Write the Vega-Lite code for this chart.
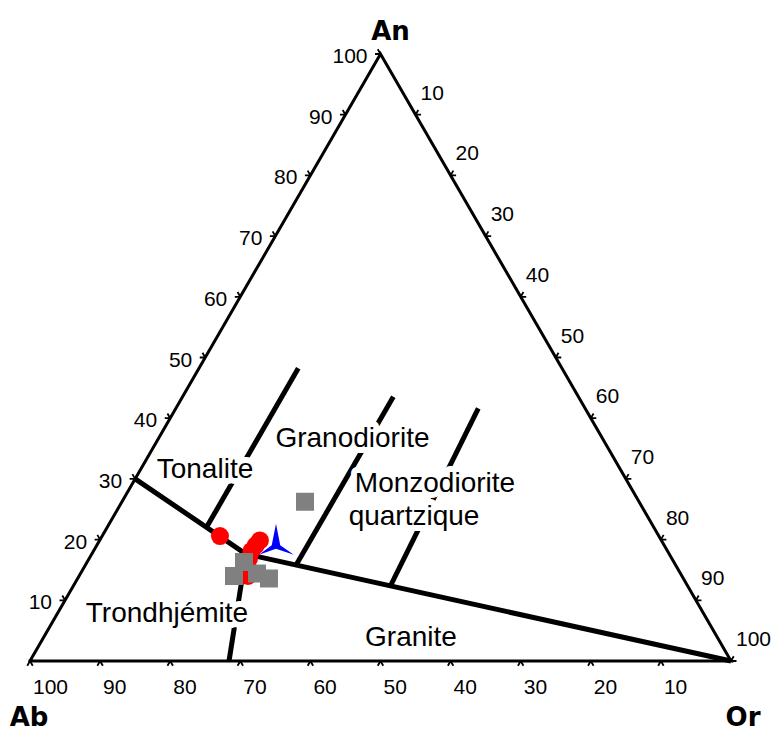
{
  "$schema": "https://vega.github.io/schema/vega-lite/v6.json",
  "width": 701,
  "height": 607,
  "autosize": {"type": "none"},
  "padding": {"left": 30, "top": 54, "right": 46, "bottom": 72},
  "background": "white",
  "config": {"view": {"stroke": null}, "text": {"font": "Liberation Sans"}},
  "datasets": {
    "frame": [
      {"X": 0, "Y": 0, "k": 0},
      {"X": 100, "Y": 0, "k": 1},
      {"X": 50, "Y": 86.6, "k": 2},
      {"X": 0, "Y": 0, "k": 3}
    ],
    "bounds": [
      {"id": "L1", "k": 0, "X": 15, "Y": 25.98},
      {"id": "L1", "k": 1, "X": 30.81, "Y": 15.26},
      {"id": "L1", "k": 2, "X": 100, "Y": 0},
      {"id": "L2", "k": 0, "X": 30.81, "Y": 15.26},
      {"id": "L2", "k": 1, "X": 28.39, "Y": 0},
      {"id": "L3", "k": 0, "X": 25.18, "Y": 19.07},
      {"id": "L3", "k": 1, "X": 38.27, "Y": 41.75},
      {"id": "L4", "k": 0, "X": 37.96, "Y": 13.68},
      {"id": "L4", "k": 1, "X": 51.83, "Y": 37.7},
      {"id": "L5", "k": 0, "X": 51.41, "Y": 10.7},
      {"id": "L5", "k": 1, "X": 63.95, "Y": 36.05}
    ],
    "tl": [
      {"X": 5, "Y": 8.66, "t": "10"},
      {"X": 10, "Y": 17.32, "t": "20"},
      {"X": 15, "Y": 25.98, "t": "30"},
      {"X": 20, "Y": 34.64, "t": "40"},
      {"X": 25, "Y": 43.3, "t": "50"},
      {"X": 30, "Y": 51.96, "t": "60"},
      {"X": 35, "Y": 60.62, "t": "70"},
      {"X": 40, "Y": 69.28, "t": "80"},
      {"X": 45, "Y": 77.94, "t": "90"},
      {"X": 50, "Y": 86.6, "t": "100"}
    ],
    "tr": [
      {"X": 55, "Y": 77.94, "t": "10"},
      {"X": 60, "Y": 69.28, "t": "20"},
      {"X": 65, "Y": 60.62, "t": "30"},
      {"X": 70, "Y": 51.96, "t": "40"},
      {"X": 75, "Y": 43.3, "t": "50"},
      {"X": 80, "Y": 34.64, "t": "60"},
      {"X": 85, "Y": 25.98, "t": "70"},
      {"X": 90, "Y": 17.32, "t": "80"},
      {"X": 95, "Y": 8.66, "t": "90"},
      {"X": 100, "Y": 0, "t": "100"}
    ],
    "tb": [
      {"X": 0, "Y": 0, "t": "100"},
      {"X": 10, "Y": 0, "t": "90"},
      {"X": 20, "Y": 0, "t": "80"},
      {"X": 30, "Y": 0, "t": "70"},
      {"X": 40, "Y": 0, "t": "60"},
      {"X": 50, "Y": 0, "t": "50"},
      {"X": 60, "Y": 0, "t": "40"},
      {"X": 70, "Y": 0, "t": "30"},
      {"X": 80, "Y": 0, "t": "20"},
      {"X": 90, "Y": 0, "t": "10"}
    ],
    "regions": [
      {"X": 24.96, "Y": 26.11, "t": "Tonalite"},
      {"X": 46.0, "Y": 30.57, "t": "Granodiorite"},
      {"X": 57.77, "Y": 24.15, "t": "Monzodiorite"},
      {"X": 54.78, "Y": 19.4, "t": "quartzique"},
      {"X": 19.54, "Y": 5.56, "t": "Trondhjémite"},
      {"X": 54.35, "Y": 2.14, "t": "Granite"}
    ],
    "red": [
      {"X": 27.1, "Y": 17.83},
      {"X": 32.8, "Y": 17.2},
      {"X": 32.2, "Y": 16.5},
      {"X": 31.6, "Y": 15.7},
      {"X": 31.24, "Y": 14.6},
      {"X": 31.1, "Y": 13.27},
      {"X": 31.1, "Y": 12.13}
    ],
    "blue": [
      {"X": 35.09, "Y": 16.83}
    ],
    "gray": [
      {"X": 30.53, "Y": 14.12},
      {"X": 29.1, "Y": 12.13},
      {"X": 32.38, "Y": 12.48},
      {"X": 34.09, "Y": 11.77},
      {"X": 39.23, "Y": 22.72}
    ]
  },
  "encoding": {
    "x": {"field": "X", "type": "quantitative", "scale": {"domain": [0, 100], "nice": false, "zero": false}, "axis": null},
    "y": {"field": "Y", "type": "quantitative", "scale": {"domain": [0, 86.6], "nice": false, "zero": false}, "axis": null}
  },
  "layer": [
    {
      "data": {"name": "frame"},
      "mark": {"type": "line", "stroke": "black", "strokeWidth": 3, "strokeJoin": "miter", "strokeCap": "square"},
      "encoding": {"order": {"field": "k", "type": "quantitative"}}
    },
    {
      "data": {"name": "bounds"},
      "mark": {"type": "line", "stroke": "black", "strokeWidth": 5, "strokeJoin": "miter"},
      "encoding": {"detail": {"field": "id", "type": "nominal"}, "order": {"field": "k", "type": "quantitative"}}
    },
    {
      "data": {"name": "tl"},
      "mark": {"type": "point", "shape": "M0,0L-1,0M0,0L-0.5,-0.866", "size": 121, "stroke": "black", "strokeWidth": 1.8, "filled": false, "opacity": 1}
    },
    {
      "data": {"name": "tl"},
      "mark": {"type": "text", "align": "right", "baseline": "middle", "dx": -13, "dy": 3, "fontSize": 21, "color": "black"},
      "encoding": {"text": {"field": "t", "type": "nominal"}}
    },
    {
      "data": {"name": "tr"},
      "mark": {"type": "point", "shape": "M0,0L1,0M0,0L0.5,-0.866", "size": 121, "stroke": "black", "strokeWidth": 1.8, "filled": false, "opacity": 1}
    },
    {
      "data": {"name": "tr"},
      "mark": {"type": "text", "align": "left", "baseline": "middle", "dx": 5, "dy": -21, "fontSize": 21, "color": "black"},
      "encoding": {"text": {"field": "t", "type": "nominal"}}
    },
    {
      "data": {"name": "tb"},
      "mark": {"type": "point", "shape": "M0,0L-0.5,0.866M0,0L0.5,0.866", "size": 121, "stroke": "black", "strokeWidth": 1.8, "filled": false, "opacity": 1}
    },
    {
      "data": {"name": "tb"},
      "mark": {"type": "text", "align": "left", "baseline": "middle", "dx": 3, "dy": 27, "fontSize": 21, "color": "black"},
      "encoding": {"text": {"field": "t", "type": "nominal"}}
    },
    {
      "data": {"name": "regions"},
      "mark": {"type": "text", "align": "center", "baseline": "alphabetic", "fontSize": 28, "fill": "white", "stroke": "white", "strokeWidth": 12, "strokeJoin": "round"},
      "encoding": {"text": {"field": "t", "type": "nominal"}}
    },
    {
      "data": {"name": "regions"},
      "mark": {"type": "text", "align": "center", "baseline": "alphabetic", "fontSize": 28, "color": "black"},
      "encoding": {"text": {"field": "t", "type": "nominal"}}
    },
    {
      "data": {"values": [{"X": 50, "Y": 86.6, "t": "An"}]},
      "mark": {"type": "text", "align": "center", "baseline": "alphabetic", "dx": 10, "dy": -14, "fontSize": 26, "font": "DejaVu Sans", "fontWeight": "bold", "color": "black"},
      "encoding": {"text": {"field": "t", "type": "nominal"}}
    },
    {
      "data": {"values": [{"X": 0, "Y": 0, "t": "Ab"}]},
      "mark": {"type": "text", "align": "center", "baseline": "alphabetic", "dx": -1, "dy": 65, "fontSize": 26, "font": "DejaVu Sans", "fontWeight": "bold", "color": "black"},
      "encoding": {"text": {"field": "t", "type": "nominal"}}
    },
    {
      "data": {"values": [{"X": 100, "Y": 0, "t": "Or"}]},
      "mark": {"type": "text", "align": "center", "baseline": "alphabetic", "dx": 12, "dy": 65, "fontSize": 26, "font": "DejaVu Sans", "fontWeight": "bold", "color": "black"},
      "encoding": {"text": {"field": "t", "type": "nominal"}}
    },
    {
      "data": {"name": "red"},
      "mark": {"type": "point", "shape": "circle", "size": 324, "filled": true, "color": "#FF0000", "opacity": 1}
    },
    {
      "data": {"name": "blue"},
      "mark": {"type": "point", "shape": "M0,-1L0.22,0.12L0.92,0.6L0,0.3L-0.88,0.6L-0.22,0.12Z", "size": 1500, "filled": true, "color": "#0000FF", "opacity": 1}
    },
    {
      "data": {"name": "gray"},
      "mark": {"type": "point", "shape": "square", "size": 324, "filled": true, "color": "#808080", "opacity": 1}
    }
  ]
}
